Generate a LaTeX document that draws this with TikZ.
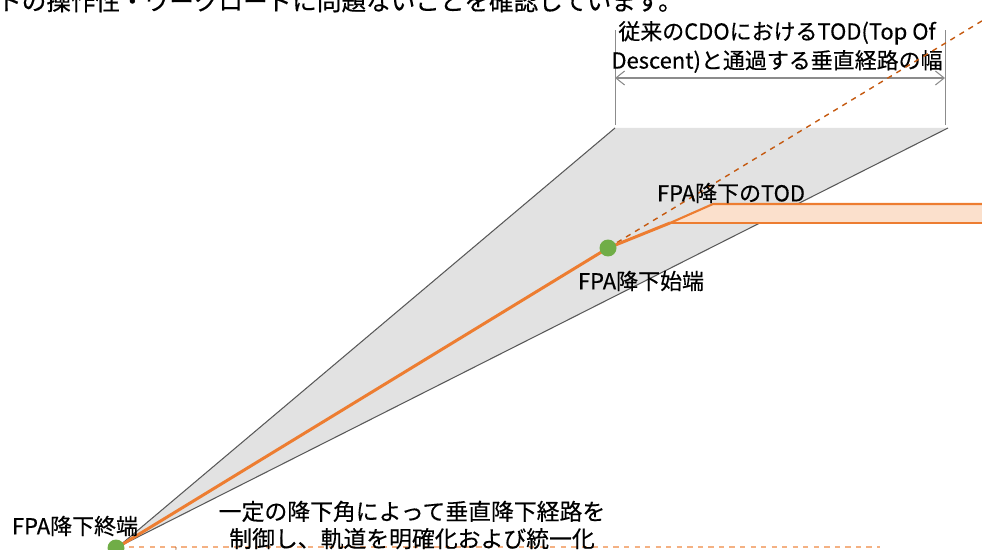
\documentclass[tikz,border=0pt]{standalone}
\usepackage{fontspec}
\setmainfont{Noto Sans CJK JP}[FakeBold=0.4]
\usetikzlibrary{arrows.meta}
\usetikzlibrary{positioning}
\usepackage{xcolor}

\definecolor{fpaorange}{HTML}{ED7D31}
\definecolor{bandfill}{HTML}{FBE0CC}
\definecolor{wedgegray}{HTML}{E2E2E2}
\definecolor{edgegray}{HTML}{595959}
\definecolor{dimgray}{HTML}{8C8C8C}
\definecolor{dashbrown}{HTML}{C55A11}
\definecolor{pointgreen}{HTML}{70AD47}
\definecolor{groundline}{HTML}{F4B183}

\begin{document}
\begin{tikzpicture}[x=0.02cm, y=-0.02cm, font=\fontsize{12.5}{15}\selectfont,
    fpapoint/.style={circle, fill=pointgreen, inner sep=0pt, minimum size=0.34cm},
    label/.style={inner sep=0pt, align=center}]
			\useasboundingbox (0,0) rectangle (982,550);
			\clip (0,0) rectangle (982,550);
			
			% text cut by the top edge
			\node[label, anchor=east, font=\fontsize{14}{16}\selectfont] (toptext) at (683,1) {トの操作性・ワークロードに問題ないことを確認しています。};
			
			\coordinate (apex) at (118,547);
			\coordinate (todleft) at (615,128);
			\coordinate (todright) at (948,128);
			
			% conventional CDO wedge
			\fill[wedgegray] (apex) -- (todleft) -- (todright) -- cycle;
			\draw[edgegray, line width=0.6pt] (todleft) -- (apex) -- (todright);
			
			% width of the conventional TOD
			\coordinate (dimleft) at (615,30);
			\coordinate (dimright) at (945,30);
			\draw[dimgray, line width=0.5pt] (615,125) -- (dimleft);
			\draw[dimgray, line width=0.5pt] (945,125) -- (dimright);
			\draw[dimgray, line width=0.6pt, {Straight Barb[length=5pt, width=8pt]}-{Straight Barb[length=5pt, width=8pt]}] (615,78) -- (945,78);
			\node[label, font=\fontsize{12.5}{16.5}\selectfont] (cdowidth) at (777,47) {従来のCDOにおけるTOD(Top Of\\Descent)と通過する垂直経路の幅};
			
			% ground line and descent angle
			\draw[groundline, dashed, line width=0.6pt] (apex) -- (880,547);
			\draw[dashbrown!80!black, line width=0.4pt] (apex) ++(0:58) arc[start angle=0, end angle=21, radius=58];
			
			% FPA path
			\coordinate (bendlow) at (670,223);
			\coordinate (bendhigh) at (713,204);
			\fill[bandfill] (bendlow) -- (bendhigh) -- (990,204) -- (990,223) -- cycle;
			\draw[fpaorange, line width=1.2pt] (bendlow) -- (bendhigh) -- (990,204);
			\draw[fpaorange, line width=1.2pt] (bendlow) -- (990,223);
			\draw[dashbrown, dashed, line width=0.8pt] (608,248) -- (990,16);
			\draw[fpaorange, line width=1.7pt] (apex) -- (608,248) -- (bendlow);
			
			\node[fpapoint] (fpastart) at (608,248) {};
			\node[fpapoint] (fpaend) at (116,548) {};
			
			\node[label] (todlabel) at (731,193) {FPA降下のTOD};
			\node[label] (startlabel) at (641,281) {FPA降下始端};
			\node[label] (endlabel) at (75,526) {FPA降下終端};
			\node[label, font=\fontsize{13}{15.5}\selectfont] (anglelabel) at (412,525) {一定の降下角によって垂直降下経路を\\制御し、軌道を明確化および統一化};
			
		\end{tikzpicture}
\end{document}
